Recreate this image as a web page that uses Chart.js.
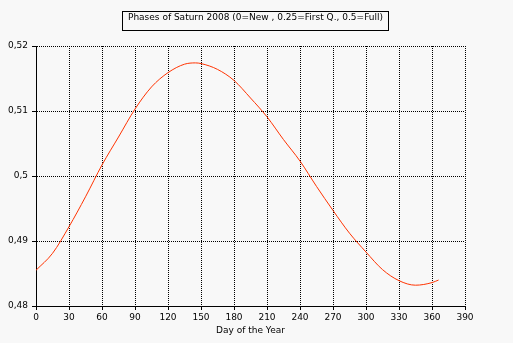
<!DOCTYPE html>
<html>
<head>
<meta charset="utf-8">
<script src="https://cdn.jsdelivr.net/npm/chart.js@4"></script>
<style>
  html, body { margin: 0; padding: 0; background: #f8f8f8; }
  #wrap { position: relative; width: 513px; height: 343px; }
  #title {
    position: absolute; left: 122px; top: 11px; width: 265px; height: 18px;
    border: 1px solid #000; line-height: 19px; text-align: center;
    font: 9px "DejaVu Sans", sans-serif; color: #000; white-space: nowrap;
  }
  canvas { position: absolute; left: 0; top: 0; }
</style>
</head>
<body>
<div id="wrap">
  <canvas id="c" width="513" height="343"></canvas>
  <div id="title">Phases of Saturn 2008 (0=New , 0.25=First Q., 0.5=Full)</div>
</div>
<script>
const days   = [0, 15, 30, 45, 60, 75, 90, 105, 120, 135, 145, 150, 165, 180, 195, 210, 225, 240, 255, 270, 285, 300, 315, 330, 345, 360, 366];
const phases = [0.4855, 0.4881, 0.4922, 0.4968, 0.5017, 0.5060, 0.5103, 0.5137, 0.5159, 0.5172, 0.5174, 0.5173, 0.5164, 0.5147, 0.5120, 0.5091, 0.5056, 0.5023, 0.4984, 0.4947, 0.4912, 0.4883, 0.4856, 0.4839, 0.4832, 0.4836, 0.4840];
const xTickLabels = ['0','30','60','90','120','150','180','210','240','270','300','330','360','390'];
const yTickLabels = ['0,48','0,49','0,5','0,51','0,52'];
const xAxisTitle = 'Day of the Year';

const font = { family: 'DejaVu Sans', size: 9 };

new Chart(document.getElementById('c'), {
  type: 'line',
  data: {
    datasets: [{
      data: days.map((d, i) => ({ x: d, y: phases[i] })),
      borderColor: '#ff3300',
      borderWidth: 1,
      pointRadius: 0,
      cubicInterpolationMode: 'monotone',
      fill: false
    }]
  },
  options: {
    responsive: false,
    animation: false,
    devicePixelRatio: 1,
    layout: { padding: { left: 0, top: 46, right: 48, bottom: 0 } },
    plugins: { legend: { display: false }, title: { display: false }, tooltip: { enabled: false } },
    scales: {
      x: {
        type: 'linear', min: 0, max: 390,
        afterBuildTicks: s => { s.ticks = xTickLabels.map(v => ({ value: Number(v) })); },
        afterFit: s => { s.height = 37; },
        ticks: { color: '#000', font, padding: 2, maxRotation: 0, autoSkip: false,
                 callback: (v, i) => xTickLabels[i] },
        grid: { color: '#000', lineWidth: 1, tickLength: 4, tickBorderDash: [] },
        border: { color: '#000', width: 1, dash: [1, 1] },
        title: { display: true, text: xAxisTitle, color: '#000', font, padding: { top: 0, bottom: 6.5 } }
      },
      y: {
        type: 'linear', min: 0.48, max: 0.52,
        afterBuildTicks: s => { s.ticks = yTickLabels.map((t, i) => ({ value: 0.48 + i * 0.01 })); },
        afterFit: s => { s.width = 36; },
        ticks: { color: '#000', font, padding: 4, autoSkip: false,
                 callback: (v, i) => yTickLabels[i] },
        grid: { color: '#000', lineWidth: 1, tickLength: 4, tickBorderDash: [] },
        border: { color: '#000', width: 1, dash: [1, 1] }
      }
    }
  }
});
</script>
</body>
</html>
